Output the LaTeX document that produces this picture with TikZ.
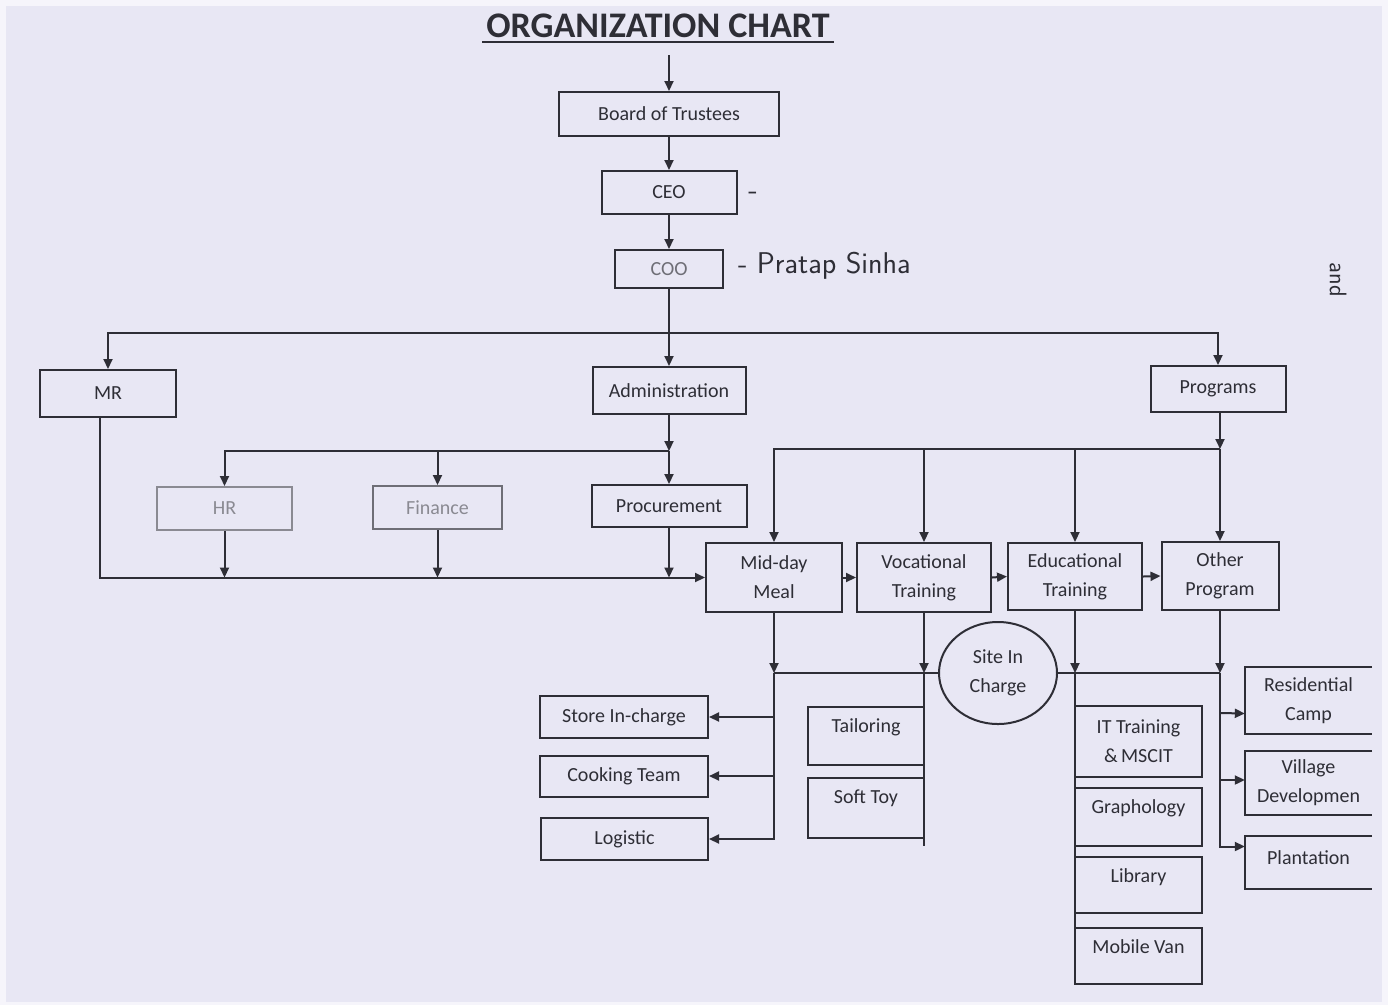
\documentclass[tikz,border=0pt]{standalone}
\usepackage{fontspec}
\setmainfont{Carlito}
\usetikzlibrary{arrows.meta,shapes.geometric}
\definecolor{bg}{HTML}{E8E7F4}
\definecolor{ink}{HTML}{2E2E36}
\definecolor{pale}{HTML}{8A8A92}
\tikzset{
  ln/.style={draw=ink,line width=2pt},
  arr/.style={ln,-{Triangle[length=10pt,width=9pt]}},
  box/.style={draw=ink,line width=2pt,rectangle,inner sep=0pt,align=center,text=ink,
    font=\fontsize{20}{29}\selectfont},
  openbox/.style={rectangle,inner sep=0pt,align=center,text=ink,font=\fontsize{20}{29}\selectfont},
  lbl/.style={text=ink,font=\fontsize{20}{29}\selectfont,inner sep=0pt},
  hand/.style={text=ink,font=\fontsize{30}{30}\selectfont\sffamily,inner sep=0pt}
}
\begin{document}
\begin{tikzpicture}[x=1pt,y=-1pt]
\fill[white!60!bg] (0,0) rectangle (1388,1005);
\fill[bg] (6,6) rectangle (1382,1002);
\useasboundingbox (0,0) rectangle (1388,1005);

% title
\node[text=ink,font=\fontsize{36}{36}\selectfont\bfseries,inner sep=0pt] (title) at (658,26) {ORGANIZATION CHART};
\draw[ink,line width=2.6pt] (482,42) -- (834,42);

% top chain
\node[box,minimum width=220pt,minimum height=44pt] (board) at (669,114) {Board of Trustees};
\node[box,minimum width=135pt,minimum height=43pt] (ceo) at (669,192.5) {CEO};
\node[box,minimum width=108pt,minimum height=38pt,text=pale!70!ink] (coo) at (669,269) {COO};
\node[hand] (dash1) at (753,196) {-};
\node[hand,anchor=west] (sinha) at (738,266) {- Pratap Sinha};
\node[hand,rotate=-90,font=\fontsize{24}{24}\selectfont\sffamily] (init) at (1338,280) {and};

\coordinate (start) at (669,55);
\draw[arr] (start) -- (board.north);
\draw[arr] (board.south) -- (ceo.north);
\draw[arr] (ceo.south) -- (coo.north);

% level 2
\node[box,minimum width=136pt,minimum height=47pt] (mr) at (108,393.5) {MR};
\node[box,minimum width=153pt,minimum height=47pt] (admin) at (669,390.5) {Administration};
\node[box,minimum width=135pt,minimum height=46pt] (prog) at (1218,389) {Programs};

\coordinate (bus1) at (669,333);
\draw[ln] (coo.south) -- (bus1);
\draw[arr] (bus1) -- (admin.north);
\draw[arr] (bus1) -| (mr.north);
\draw[arr] (bus1) -| (prog.north);

% admin children
\node[box,minimum width=135pt,minimum height=43pt,draw=pale,text=pale] (hr) at (224.5,508.5) {HR};
\node[box,minimum width=129pt,minimum height=43pt,draw=pale!70!ink,text=pale] (fin) at (437.5,507.5) {Finance};
\node[box,minimum width=155pt,minimum height=42pt] (proc) at (669,506) {Procurement};

\coordinate (bus2) at (669,451);
\draw[arr] (admin.south) -- (bus2);
\draw[arr] (bus2) -- (proc.north);
\draw[arr] (bus2) -| (hr.north);
\draw[arr] (bus2) -| (fin.north);

% programs row
\node[box,minimum width=136pt,minimum height=69pt] (mid) at (774,577.5) {Mid-day\\Meal};
\node[box,minimum width=134pt,minimum height=69pt] (voc) at (924,577.5) {Vocational\\Training};
\node[box,minimum width=134pt,minimum height=67pt] (edu) at (1075,576.5) {Educational\\Training};
\node[box,minimum width=117pt,minimum height=68pt] (other) at (1220,576) {Other\\Program};

\draw[arr] ([xshift=-8pt]mr.south) |- (mid.west);
\draw[arr] (hr.south) -- (hr.south |- mid.west);
\draw[arr] (fin.south) -- (fin.south |- mid.west);
\draw[arr] (proc.south) -- (proc.south |- mid.west);

\coordinate (bus4) at (1220,449);
\draw[arr] (prog.south -| bus4) -- (bus4);
\draw[arr] (bus4) -- (other.north);
\draw[arr] (bus4) -| (mid.north);
\draw[arr] (bus4) -| (voc.north);
\draw[arr] (bus4) -| (edu.north);

\draw[arr] (mid.east) -- (voc.west);
\draw[arr] (voc.east) -- (edu.west);
\draw[arr] (edu.east) -- (other.west);

% site in charge
\node[ellipse,draw=ink,line width=2pt,minimum width=118pt,minimum height=102pt,inner sep=0pt,align=center,text=ink,font=\fontsize{20}{29}\selectfont] (site) at (998,673) {Site In\\Charge};

\coordinate (m1) at (mid.south |- site.west);
\coordinate (v1) at (voc.south |- site.west);
\coordinate (e1) at (edu.south |- site.east);
\coordinate (o1) at (other.south |- site.east);
\draw[arr] (mid.south) -- (m1);
\draw[arr] (voc.south) -- (v1);
\draw[arr] (edu.south) -- (e1);
\draw[arr] (other.south) -- (o1);
\draw[ln] (m1) -- (site.west);
\draw[ln] (site.east) -- (o1);

% mid-day children
\node[box,minimum width=168pt,minimum height=42pt] (store) at (624,717) {Store In-charge};
\node[box,minimum width=168pt,minimum height=41pt] (cook) at (624,776) {Cooking Team};
\node[box,minimum width=167pt,minimum height=42pt] (logi) at (624.5,839) {Logistic};
\draw[arr] (m1) |- (logi.east);
\draw[arr] (m1 |- store.east) -- (store.east);
\draw[arr] (m1 |- cook.east) -- (cook.east);

% vocational children
\node[box,minimum width=116pt,minimum height=58pt,label={[lbl,yshift=9pt]center:Tailoring}] (tail) at (866,736) {};
\node[box,minimum width=116pt,minimum height=60pt,label={[lbl,yshift=10pt]center:Soft Toy}] (soft) at (866,808) {};
\coordinate (v2) at (924,846);
\draw[ln] (v1) -- (v2);

% educational children
\node[box,minimum width=127pt,minimum height=71pt] (it) at (1138.5,741.5) {IT Training\\\&\,MSCIT};
\node[box,minimum width=127pt,minimum height=58pt,label={[lbl,yshift=9pt]center:Graphology}] (graph) at (1138.5,817) {};
\node[box,minimum width=127pt,minimum height=56pt,label={[lbl,yshift=8pt]center:Library}] (lib) at (1138.5,885) {};
\node[box,minimum width=127pt,minimum height=56pt,label={[lbl,yshift=9pt]center:Mobile Van}] (van) at (1138.5,956) {};
\draw[ln] (e1) -- (e1 |- van.south);

% other program children (right edge cut off)
\node[openbox,minimum width=127pt,minimum height=67pt] (res) at (1308.5,700.5) {Residential\\Camp};
\node[openbox,minimum width=127pt,minimum height=64pt] (vil) at (1308.5,783) {Village\\Developmen};
\node[openbox,minimum width=127pt,minimum height=53pt,label={[lbl,yshift=5pt]center:Plantation}] (plant) at (1308.5,862.5) {};
\foreach \n in {res,vil,plant}{
  \draw[ln] (\n.north east) -- (\n.north west) -- (\n.south west) -- (\n.south east);
}
\draw[arr] (o1) |- ([yshift=16pt]plant.west);
\draw[arr] (o1 |- 0,713) -- ([yshift=-13pt]res.west);
\draw[arr] (o1 |- 0,780) -- ([yshift=3pt]vil.west);
\end{tikzpicture}
\end{document}
